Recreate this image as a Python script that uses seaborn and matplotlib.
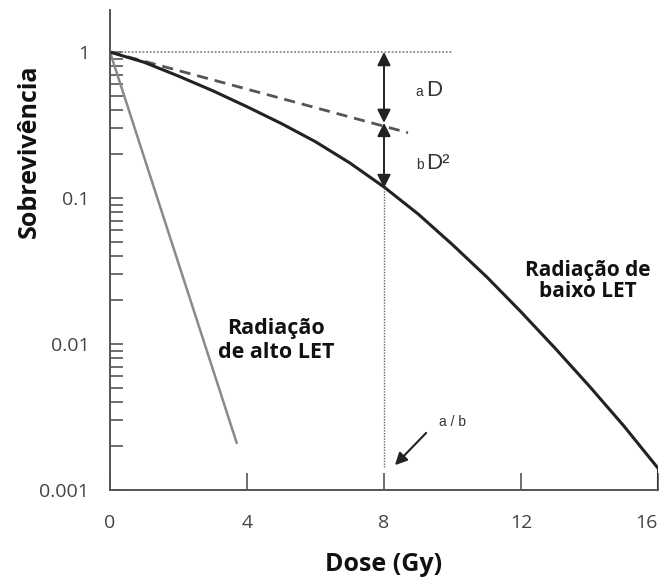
import numpy as np
import pandas as pd
import matplotlib
matplotlib.use("Agg")
import matplotlib.pyplot as plt
import seaborn as sns
from matplotlib.ticker import LogLocator, FixedLocator, NullFormatter

# ---- data ----
dose_low = [0, 1, 2, 3, 4, 5, 6, 7, 8, 9, 10, 11, 12, 13, 14, 15, 16]
surv_low = [1.0, 0.85, 0.684, 0.543, 0.422, 0.324, 0.243, 0.174, 0.119,
            0.0776, 0.0479, 0.0288, 0.0166, 0.00933, 0.00513, 0.00275, 0.00141]
dose_high = [0, 3.7]
surv_high = [1.0, 0.0021]
dose_alpha = [0, 8.7]
surv_alpha = [1.0, 0.28]
dose_ref = [0, 10]
surv_ref = [1.0, 1.0]
ab_dose = 8
aD_top, aD_bottom, bD_bottom = 1.0, 0.327, 0.117
x_ticks = [0, 4, 8, 12, 16]
y_ticks = [0.001, 0.01, 0.1, 1]
y_tick_labels = ["0.001", "0.01", "0.1", "1"]

sns.set_theme(style="ticks")
plt.rcParams['font.family'] = ['Open Sans', 'DejaVu Sans']

fig = plt.figure(figsize=(6.63, 5.8), dpi=100)
ax = fig.add_axes([110/663, 90/580, 548/663, 480/580])
ax.set_yscale('log')

spine_col = "#555555"
sns.lineplot(x=dose_ref, y=surv_ref, ax=ax, color="#888888", lw=1.3,
             linestyle=(0, (1, 1)))
sns.lineplot(x=dose_alpha, y=surv_alpha, ax=ax, color="#555555", lw=2.0,
             linestyle=(0, (4, 2.5)))
sns.lineplot(x=dose_high, y=surv_high, ax=ax, color="#8a8a8a", lw=1.8)
sns.lineplot(x=dose_low, y=surv_low, ax=ax, color="#222222", lw=2.2, sort=False)
# closing edge at the right end
ax.plot([dose_low[-1], dose_low[-1]], [surv_low[-1], 0.001], color="#333333", lw=1.5)
# dotted vertical at alpha/beta
ax.plot([ab_dose, ab_dose], [bD_bottom, 0.00144], color="#666666", lw=1.0,
        linestyle=(0, (1, 1)))

arrow_kw = dict(arrowstyle='<|-|>', color='#222222', lw=1.4, mutation_scale=20,
                shrinkA=0, shrinkB=0)
ax.annotate("", xy=(ab_dose, aD_top), xytext=(ab_dose, aD_bottom), arrowprops=arrow_kw)
ax.annotate("", xy=(ab_dose, aD_bottom), xytext=(ab_dose, bD_bottom), arrowprops=arrow_kw)
ax.annotate("", xy=(8.32, 0.00148), xytext=(9.23, 0.00246),
            arrowprops=dict(arrowstyle='-|>', color='#222222', lw=1.5,
                            mutation_scale=18, shrinkA=0, shrinkB=0))

lab_font = ['Liberation Sans', 'DejaVu Sans']
ax.text(8.93, 0.50, "a", fontsize=10, color="#333333", family=lab_font, va='baseline')
ax.text(9.23, 0.50, "D", fontsize=16, color="#333333", family=lab_font, va='baseline')
ax.text(8.93, 0.158, "b", fontsize=10, color="#333333", family=lab_font, va='baseline')
ax.text(9.23, 0.158, "D²", fontsize=16, color="#333333", family=lab_font, va='baseline')
ax.text(9.99, 0.00292, "a / b", fontsize=10, color="#333333", family=lab_font,
        ha='center', va='center')

ax.text(4.85, 0.0106, "Radiação\nde alto LET", fontsize=15.5, fontweight='bold',
        ha='center', va='center', color="#111111", linespacing=1.2)
ax.text(13.96, 0.0270, "Radiação de\nbaixo LET", fontsize=15, fontweight='bold',
        ha='center', va='center', color="#111111", linespacing=1.05)

ax.set_xlim(0, 16)
ax.set_ylim(0.001, 1.94)
ax.xaxis.set_major_locator(FixedLocator(x_ticks))
ax.set_xticklabels([str(t) for t in x_ticks])
ax.yaxis.set_major_locator(FixedLocator(y_ticks))
ax.set_yticklabels(y_tick_labels)
ax.yaxis.set_minor_locator(LogLocator(base=10, subs=np.arange(2, 10)))
ax.yaxis.set_minor_formatter(NullFormatter())

ax.tick_params(axis='y', which='both', direction='in', length=9, width=1.2,
               color=spine_col, pad=15, labelsize=14, labelcolor="#444444")
ax.tick_params(axis='x', which='major', direction='in', length=12, width=1.2,
               color=spine_col, pad=17, labelsize=14, labelcolor="#444444")
ax.tick_params(axis='x', which='minor', length=0)
ax.get_xticklabels()[-1].set_horizontalalignment('right')

for s in ['top', 'right']:
    ax.spines[s].set_visible(False)
for s in ['left', 'bottom']:
    ax.spines[s].set_color(spine_col)
    ax.spines[s].set_linewidth(1.4)

ax.set_xlabel("Dose (Gy)", fontsize=18, fontweight='bold', color="#111111")
ax.xaxis.set_label_coords(0.5, -0.13)
ax.set_ylabel("Sobrevivência", fontsize=18, fontweight='bold', color="#111111")
ax.yaxis.set_label_coords(-0.125, 0.705)

fig.savefig("out.png", dpi=100)
